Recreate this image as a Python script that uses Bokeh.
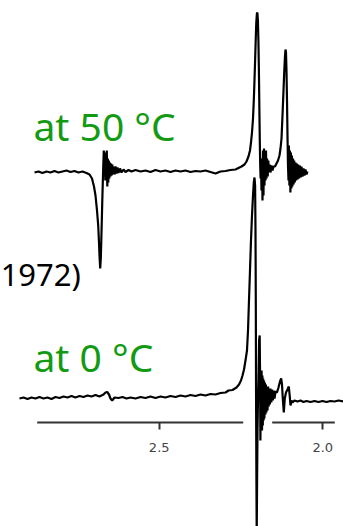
import numpy as np
from bokeh.plotting import figure
from bokeh.models import Range1d, LinearAxis, FixedTicker, Label, PrintfTickFormatter
from bokeh.embed import file_html
from bokeh.resources import INLINE

# ---------------- data (chemical shift in ppm, intensity in arbitrary units) -------------
top_ppm = [2.8811, 2.8689, 2.8567, 2.8444, 2.8322, 2.8200, 2.8078, 2.7956, 2.7833, 2.7711,
           2.7589, 2.7467, 2.7344, 2.7222, 2.7130, 2.7054, 2.6993, 2.6947, 2.6901, 2.6864,
           2.6840, 2.6825, 2.6803, 2.6785, 2.6770, 2.6754, 2.6739, 2.6724, 2.6709, 2.6693,
           2.6678, 2.6663, 2.6647, 2.6632, 2.6617, 2.6602, 2.6586, 2.6571, 2.6556, 2.6540,
           2.6525, 2.6507, 2.6489, 2.6470, 2.6452, 2.6434, 2.6412, 2.6391, 2.6366, 2.6336,
           2.6305, 2.6275, 2.6244, 2.6198, 2.6152, 2.6091, 2.6030, 2.5938, 2.5847, 2.5724,
           2.5572, 2.5419, 2.5266, 2.5113, 2.4960, 2.4808, 2.4655, 2.4502, 2.4349, 2.4196,
           2.4044, 2.3891, 2.3738, 2.3585, 2.3432, 2.3280, 2.3127, 2.2974, 2.2821, 2.2668,
           2.2577, 2.2485, 2.2393, 2.2332, 2.2271, 2.2225, 2.2195, 2.2164, 2.2133, 2.2109,
           2.2088, 2.2069, 2.2051, 2.2033, 2.2014, 2.1999, 2.1984, 2.1968, 2.1953, 2.1938,
           2.1926, 2.1913, 2.1901, 2.1889, 2.1874, 2.1858, 2.1843, 2.1828, 2.1813, 2.1797,
           2.1782, 2.1767, 2.1751, 2.1736, 2.1721, 2.1703, 2.1684, 2.1666, 2.1644, 2.1623,
           2.1599, 2.1568, 2.1537, 2.1507, 2.1461, 2.1415, 2.1369, 2.1324, 2.1293, 2.1262,
           2.1232, 2.1201, 2.1177, 2.1155, 2.1140, 2.1125, 2.1110, 2.1094, 2.1079, 2.1064,
           2.1048, 2.1036, 2.1021, 2.1006, 2.0990, 2.0975, 2.0960, 2.0945, 2.0929, 2.0911,
           2.0893, 2.0874, 2.0856, 2.0834, 2.0813, 2.0792, 2.0770, 2.0749, 2.0724, 2.0700,
           2.0676, 2.0651, 2.0621, 2.0590, 2.0560, 2.0529, 2.0498, 2.0468]
top_int = [0, 1, -0.5, 1, 0, 1.5, 0, 1, 2, 0.5,
           1.5, 0, 1, -0.5, -2, -6, -14, -23, -38, -53,
           -70, -83, -96, -86, -68, -48, -28, -10, 7, 22,
           4, 17, -8, 20, -3, 22, -14, 14, -10, 12,
           -6, 10, -4, 9, -3, 8, -2, 6, -2, 6,
           -1, 5, -0.5, 4, 0, 3, 0.5, 2.5, 1, 2.5,
           1, 2, 0.5, 2.5, 1, 2, 0.5, 2, 1, 2,
           0.5, 1.5, 1, 2, 0.5, -1, 1, 1.5, 2.5, 3,
           4.5, 6, 8, 11, 16, 22, 30, 40, 54, 72,
           92, 112, 132, 150, 159, 160, 152, 132, 102, 62,
           32, 7, -6, 12, -18, 14, -28, 22, -23, 24,
           -13, 20, -8, 22, -6, 14, -4, 12, 0, 8,
           0, 7, 2, 6, 6, 9, 12, 17, 24, 34,
           57, 82, 102, 117, 123, 120, 102, 72, 37, 7,
           -8, 27, -13, 22, -20, 20, -16, 17, -14, 14,
           -12, 12, -10, 10, -8, 9, -7, 8, -6, 7,
           -5, 6, -4, 4, -3, 3, -2, 1]

bottom_ppm = [2.9270, 2.9147, 2.9025, 2.8903, 2.8781, 2.8658, 2.8536, 2.8414, 2.8292, 2.8169,
              2.8047, 2.7925, 2.7803, 2.7680, 2.7558, 2.7436, 2.7314, 2.7191, 2.7069, 2.6947,
              2.6825, 2.6702, 2.6641, 2.6589, 2.6534, 2.6489, 2.6437, 2.6366, 2.6244, 2.6122,
              2.6000, 2.5877, 2.5724, 2.5572, 2.5419, 2.5266, 2.5113, 2.4960, 2.4808, 2.4655,
              2.4502, 2.4349, 2.4196, 2.4044, 2.3891, 2.3738, 2.3585, 2.3432, 2.3280, 2.3127,
              2.2974, 2.2882, 2.2760, 2.2638, 2.2561, 2.2500, 2.2454, 2.2408, 2.2363, 2.2317,
              2.2286, 2.2256, 2.2225, 2.2195, 2.2164, 2.2133, 2.2109, 2.2088, 2.2069, 2.2057,
              2.2048, 2.2039, 2.2029, 2.2020, 2.2008, 2.1996, 2.1981, 2.1965, 2.1947, 2.1929,
              2.1916, 2.1907, 2.1895, 2.1883, 2.1871, 2.1858, 2.1846, 2.1834, 2.1822, 2.1809,
              2.1797, 2.1785, 2.1770, 2.1754, 2.1739, 2.1724, 2.1709, 2.1690, 2.1672, 2.1654,
              2.1635, 2.1617, 2.1599, 2.1574, 2.1550, 2.1525, 2.1501, 2.1476, 2.1446, 2.1400,
              2.1354, 2.1308, 2.1272, 2.1247, 2.1223, 2.1192, 2.1162, 2.1125, 2.1079, 2.1039,
              2.1012, 2.0987, 2.0957, 2.0926, 2.0865, 2.0773, 2.0682, 2.0590, 2.0498, 2.0376,
              2.0254, 2.0132, 2.0009, 1.9887, 1.9765, 1.9643, 1.9520, 1.9368]
bottom_int = [-1, 0, -1.5, 0, -1, 0.5, -1, 0, -1.5, 0.5,
              -0.5, 1, 0, 1.5, 0, 1.5, 0.5, 2, 1, 2.5,
              1, 3, 5, 5.5, 3, -1, -3, 0, -0.5, 0.5,
              -1, 0, -1, 0.5, -0.5, 1, -0.5, 1, 0, 1.5,
              0.5, 2, 1, 2.5, 1.5, 3, 2, 3.5, 3, 4.5,
              5, 7, 7.5, 10, 13, 17, 22, 28, 37, 47,
              67, 97, 127, 157, 182, 202, 215, 220, 212, 167,
              97, -3, -83, -138, -83, -33, -3, 17, 57, 62,
              17, -43, -3, -28, 27, -33, 22, -28, 19, -23,
              17, -21, 15, -17, 13, -15, 11, -13, 11, -9,
              9, -7, 9, -5, 8, -3, 7, -1, 6, 5,
              10, 16, 19, 13, -1, -15, -1, 5, 8, 11,
              2, -8, -3, -5, -3, -4, -3, -4.5, -3.5, -4.5,
              -3.5, -4.5, -3.5, -4.5, -3.5, -4, -3, -4]

# vertical stacking of the two traces
top_offset = 354
bottom_offset = 129

# chemical-shift axis
axis_ticks = [2.5, 2.0]
axis_level = 104
axis_seg_start = [2.8729, 2.1547]
axis_seg_end = [2.2433, 1.9633]

label_top = "at 50 °C"
label_bottom = "at 0 °C"
label_ref = "1972)"

# ---------------- figure ----------------
p = figure(width=343, height=526,
           x_range=Range1d(2.98503, 1.93675), y_range=Range1d(0, 526),
           x_axis_type=None, y_axis_type=None,
           toolbar_location=None, output_backend="svg",
           min_border=0, outline_line_color=None)
p.background_fill_color = "white"
p.border_fill_color = "white"

p.line(top_ppm, np.array(top_int) + top_offset, line_color="black", line_width=2.2)
p.line(bottom_ppm, np.array(bottom_int) + bottom_offset, line_color="black", line_width=2.2)

# axis line with the gap where the trace crosses it
p.segment(x0=axis_seg_start, y0=[axis_level] * 2, x1=axis_seg_end, y1=[axis_level] * 2,
          line_color="#333333", line_width=2)

ax = LinearAxis(fixed_location=axis_level,
                ticker=FixedTicker(ticks=axis_ticks, minor_ticks=[]),
                formatter=PrintfTickFormatter(format="%.1f"))
ax.axis_line_color = None
ax.major_tick_in = 0
ax.major_tick_out = 7
ax.major_tick_line_width = 2
ax.major_tick_line_color = "#333333"
ax.minor_tick_line_color = None
ax.major_label_text_font = "DejaVu Sans"
ax.major_label_text_font_size = "13px"
ax.major_label_text_color = "#444444"
ax.major_label_standoff = 13
p.add_layout(ax, "below")

p.add_layout(Label(x=2.8842, y=401.5, text=label_top, text_font="Noto Sans",
                   text_font_size="39px", text_color="#139a13",
                   text_baseline="alphabetic", text_align="left"))
p.add_layout(Label(x=2.8842, y=170, text=label_bottom, text_font="Noto Sans",
                   text_font_size="39px", text_color="#139a13",
                   text_baseline="alphabetic", text_align="left"))
p.add_layout(Label(x=2.9846, y=252.7, text=label_ref, text_font="Noto Sans",
                   text_font_size="31px", text_color="black",
                   text_baseline="alphabetic", text_align="left"))

open("out.html", "w").write(file_html(p, INLINE))
